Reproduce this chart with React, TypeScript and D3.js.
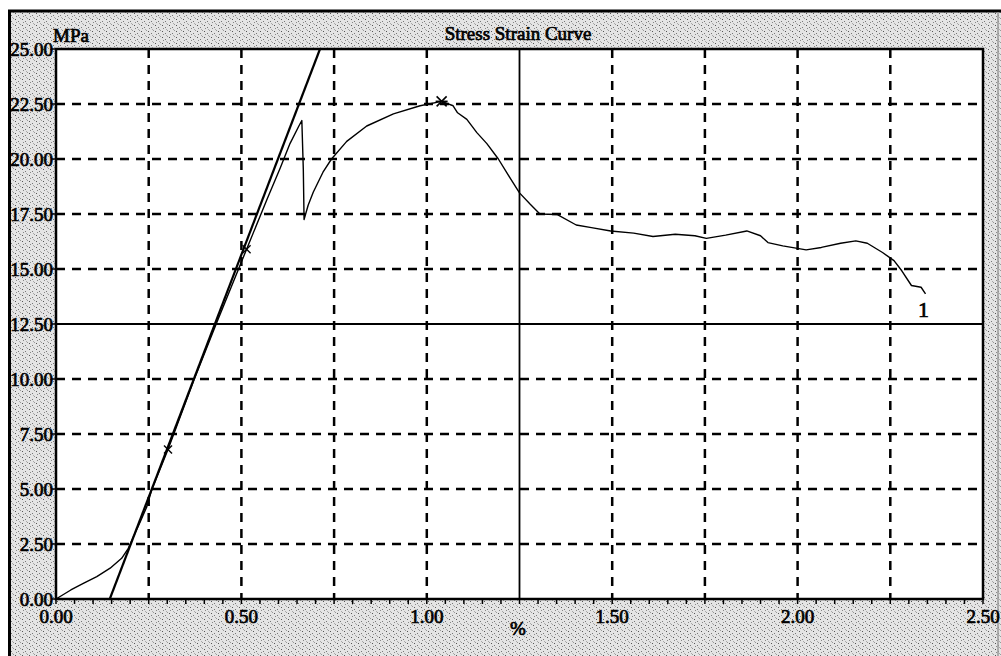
import * as d3 from 'd3'

// stress-strain record (strain in %, stress in MPa)
const strain = [
  0.0, 0.04, 0.075, 0.11, 0.146, 0.177, 0.195, 0.213, 0.227, 0.245, 0.258,
  0.302, 0.373, 0.432, 0.514, 0.57, 0.605, 0.631, 0.655, 0.663, 0.667, 0.669,
  0.68, 0.694, 0.72, 0.743, 0.784, 0.838, 0.91, 0.982, 1.04, 1.071, 1.083,
  1.108, 1.135, 1.162, 1.193, 1.227, 1.25, 1.279, 1.305, 1.351, 1.403,
  1.444, 1.496, 1.558, 1.61, 1.67, 1.723, 1.754, 1.806, 1.863, 1.9, 1.92,
  1.96, 2.023, 2.064, 2.116, 2.157, 2.188, 2.229, 2.26, 2.281, 2.307,
  2.333, 2.345,
]
const stress = [
  0.0, 0.41, 0.72, 1.02, 1.4, 1.85, 2.3, 2.99, 3.5, 4.2, 4.95,
  6.8, 10.0, 12.5, 15.9, 18.2, 19.6, 20.7, 21.5, 21.75, 19.5, 17.25,
  17.9, 18.5, 19.4, 20.0, 20.8, 21.5, 22.05, 22.42, 22.62, 22.42, 22.1,
  21.8, 21.2, 20.7, 20.0, 19.07, 18.46, 17.94, 17.5, 17.48, 17.0,
  16.88, 16.73, 16.63, 16.48, 16.58, 16.51, 16.39, 16.54, 16.73, 16.51, 16.2,
  16.05, 15.87, 15.98, 16.17, 16.28, 16.17, 15.75, 15.38, 14.92, 14.25,
  14.17, 13.87,
]

// modulus line
const tangentStrain = [0.145, 0.712]
const tangentStress = [0, 25]

// marked points
const markStrain = [0.302, 0.514]
const markStress = [6.8, 15.9]
const peakStrain = 1.04
const peakStress = 22.62

const xTicks = [0, 0.25, 0.5, 0.75, 1.0, 1.25, 1.5, 1.75, 2.0, 2.25, 2.5]
const xTickLabels = ['0.00', '0.50', '1.00', '1.50', '2.00', '2.50']
const yTicks = [0, 2.5, 5, 7.5, 10, 12.5, 15, 17.5, 20, 22.5, 25]
const yTickLabels = ['0.00', '2.50', '5.00', '7.50', '10.00', '12.50', '15.00', '17.50', '20.00', '22.50', '25.00']
const minorTicks = d3.range(0, 51).map(i => i * 0.05)

const W = 1001
const H = 656
const FONT = '"Liberation Serif", "DejaVu Serif", serif'

export default function App() {
  const x = d3.scaleLinear().domain([0, 2.5]).range([56, 983])
  const y = d3.scaleLinear().domain([0, 25]).range([599, 49])

  const pts = strain.map((s, i) => [s, stress[i]] as [number, number])
  const line = d3.line<[number, number]>().x(d => x(d[0])).y(d => y(d[1]))
  const tangent = tangentStrain.map((s, i) => [s, tangentStress[i]] as [number, number])

  const txt = { fontFamily: FONT, fontSize: 19, fill: '#000', stroke: '#000', strokeWidth: 0.7 }

  return (
    <div style={{ position: 'fixed', left: 0, top: 0 }}>
      <svg width={W} height={H} style={{ display: 'block' }}>
        <defs>
          {/* dithered scan texture */}
          <pattern id="speckle" width={7} height={6} patternUnits="userSpaceOnUse">
            <rect width={7} height={6} fill="#e4e4e4" />
            <rect x={1} y={1} width={1} height={1} fill="#555" />
            <rect x={4} y={3} width={1} height={1} fill="#777" />
            <rect x={6} y={0} width={1} height={1} fill="#999" />
            <rect x={2} y={4} width={1} height={1} fill="#888" />
            <rect x={5} y={5} width={1} height={1} fill="#aaa" />
          </pattern>
        </defs>
        <rect x={0} y={0} width={W} height={H} fill="#fff" />
        <rect x={9} y={11} width={W - 9} height={H - 11} fill="url(#speckle)" />
        <line x1={8} x2={W} y1={11} y2={11} stroke="#000" strokeWidth={3} />
        <line x1={9.5} x2={9.5} y1={10} y2={H} stroke="#000" strokeWidth={3} />
        <line x1={998} x2={998} y1={12} y2={H} stroke="#9a9a9a" strokeWidth={1.5} />

        {/* plot area */}
        <rect x={x(0)} y={y(25)} width={x(2.5) - x(0)} height={y(0) - y(25)} fill="#fff" />

        {/* grid */}
        {xTicks.filter(t => t > 0 && t < 2.5).map(t => (
          <line key={'gx' + t} x1={x(t)} x2={x(t)} y1={y(25)} y2={y(0)} stroke="#000"
            strokeWidth={t === 1.25 ? 1.8 : 2.5} strokeDasharray={t === 1.25 ? undefined : '9 7'} />
        ))}
        {yTicks.filter(t => t > 0 && t < 25).map(t => (
          <line key={'gy' + t} x1={x(0)} x2={x(2.5)} y1={y(t)} y2={y(t)} stroke="#000"
            strokeWidth={t === 12.5 ? 1.8 : 2.5} strokeDasharray={t === 12.5 ? undefined : '9 7'} />
        ))}

        {/* frame */}
        <rect x={x(0)} y={y(25)} width={x(2.5) - x(0)} height={y(0) - y(25)} fill="none" stroke="#000" strokeWidth={2.5} />

        {/* axis ticks */}
        {minorTicks.map(t => (
          <line key={'mt' + t} x1={x(t)} x2={x(t)} y1={y(0)} y2={y(0) + 5} stroke="#000" strokeWidth={1.5} />
        ))}
        {yTicks.map(t => (
          <line key={'yt' + t} x1={x(0) - 4} x2={x(0)} y1={y(t)} y2={y(t)} stroke="#000" strokeWidth={1.5} />
        ))}

        {/* curves */}
        <path d={line(tangent) || ''} fill="none" stroke="#000" strokeWidth={2.2} />
        <path d={line(pts) || ''} fill="none" stroke="#000" strokeWidth={1.4} strokeLinejoin="round" />

        {markStrain.map((s, i) => {
          const cx = x(s)
          const cy = y(markStress[i])
          return (
            <g key={'m' + i} stroke="#000" strokeWidth={1.4}>
              <line x1={cx - 4} x2={cx + 4} y1={cy - 4} y2={cy + 4} />
              <line x1={cx - 4} x2={cx + 4} y1={cy + 4} y2={cy - 4} />
            </g>
          )
        })}
        <g stroke="#000" strokeWidth={1.6}>
          <line x1={x(peakStrain) - 5} x2={x(peakStrain) + 5} y1={y(peakStress) - 5} y2={y(peakStress) + 5} />
          <line x1={x(peakStrain) - 5} x2={x(peakStrain) + 5} y1={y(peakStress) + 5} y2={y(peakStress) - 5} />
          <line x1={x(peakStrain) - 6} x2={x(peakStrain) + 6} y1={y(peakStress)} y2={y(peakStress)} />
        </g>
        <text x={x(strain[strain.length - 1]) - 2} y={y(stress[stress.length - 1]) + 23}
          textAnchor="middle" {...txt} fontSize={22}>1</text>

        {/* labels */}
        {yTicks.map((t, i) => (
          <text key={'yl' + t} x={53} y={y(t) + 6.5} textAnchor="end" {...txt}>{yTickLabels[i]}</text>
        ))}
        {xTickLabels.map(l => (
          <text key={'xl' + l} x={x(+l)} y={623} textAnchor="middle" {...txt}>{l}</text>
        ))}
        <text x={53} y={42} {...txt}>MPa</text>
        <text x={518} y={40} textAnchor="middle" {...txt}>Stress Strain Curve</text>
        <text x={518} y={635} textAnchor="middle" {...txt}>%</text>
      </svg>
    </div>
  )
}
